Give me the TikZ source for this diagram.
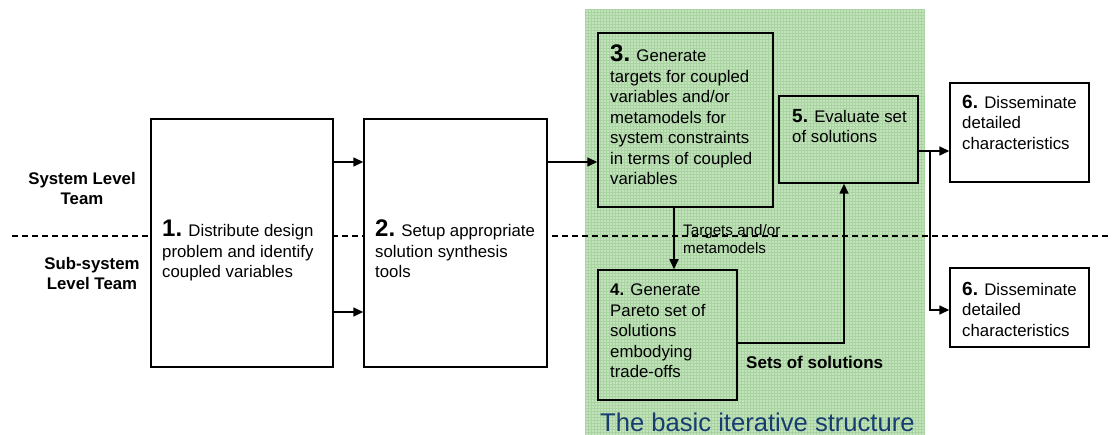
\documentclass[tikz,border=0pt]{standalone}
\usepackage{fontspec}
\setmainfont{Liberation Sans}
\usetikzlibrary{arrows.meta,calc}

\definecolor{zone}{RGB}{194,227,188}
\definecolor{zonegrid}{RGB}{170,211,162}
\definecolor{zonetext}{RGB}{22,60,112}

\newcommand{\bodyfont}{\fontsize{16.8}{20.5}\selectfont}
\newcommand{\bignum}[1]{{\fontsize{24}{20.5}\selectfont\bfseries #1}}
\newcommand{\midnum}[1]{{\fontsize{19}{20.5}\selectfont\bfseries #1}}

\begin{document}
\begin{tikzpicture}[x=1pt,y=-1pt,
  stagebox/.style={draw=black, line width=1.5pt, inner sep=0pt},
  plainbox/.style={stagebox, fill=white},
  stagetext/.style={anchor=north west, inner sep=0pt, align=left, font=\bodyfont},
  teamlabel/.style={inner sep=0pt, align=center, font=\fontsize{16.8}{19.5}\selectfont\bfseries},
  flow/.style={line width=1.6pt, -{Triangle[length=10pt,width=9pt]}},
  lane/.style={line width=1.3pt, dash pattern=on 6pt off 4pt}
]
\useasboundingbox (0,0) rectangle (1115,435);

% shaded zone of the iterative loop
\fill[zone] (585,9) rectangle (925,435);
\draw[zonegrid, line width=0.45pt] (585,9) grid[step=3pt] (925,435);

% boundary between the two team levels
\draw[lane] (12,236) -- (1110,236);

% stage boxes
\node[plainbox, minimum width=182pt, minimum height=248pt] (b1) at (242,243) {};
\node[plainbox, minimum width=183pt, minimum height=248pt] (b2) at (455.5,243) {};
\node[stagebox, minimum width=175pt, minimum height=174pt] (b3) at (685.5,120) {};
\node[stagebox, minimum width=139pt, minimum height=87pt] (b5) at (848.5,139.5) {};
\node[stagebox, minimum width=139pt, minimum height=130pt] (b4) at (667.5,335) {};
\node[plainbox, minimum width=139pt, minimum height=99pt] (b6a) at (1019.5,132.5) {};
\node[plainbox, minimum width=139pt, minimum height=79pt] (b6b) at (1019.5,307.5) {};

% stage texts
\node[stagetext] (t1) at (162,220) {\bignum{1.} Distribute design\\problem and identify\\coupled variables};
\node[stagetext] (t2) at (375,220) {\bignum{2.} Setup appropriate\\solution synthesis\\tools};
\node[stagetext] (t3) at (610,45) {\bignum{3.} Generate\\targets for coupled\\variables and/or\\metamodels for\\system constraints\\in terms of coupled\\variables};
\node[stagetext] (t5) at (792,109) {\midnum{5.} Evaluate set\\of solutions};
\node[stagetext] (t4) at (610,284) {\textbf{4.} Generate\\Pareto set of\\solutions\\embodying\\trade-offs};
\node[stagetext] (t6a) at (962,95) {\midnum{6.} Disseminate\\detailed\\characteristics};
\node[stagetext] (t6b) at (962,282) {\midnum{6.} Disseminate\\detailed\\characteristics};

% team labels
\node[teamlabel] (sys) at (82,188.5) {System Level\\Team};
\node[teamlabel] (sub) at (92,273.5) {Sub-system\\Level Team};

% connectors
\draw[flow] ([yshift=81pt]b1.east) -- ([yshift=81pt]b2.west);
\draw[flow] ([yshift=-69pt]b1.east) -- ([yshift=-69pt]b2.west);
\coordinate (r2) at ([yshift=81pt]b2.east);
\draw[flow] (r2) -- (r2 -| b3.west);
\coordinate (d3) at ([xshift=-11.5pt]b3.south);
\draw[flow] (d3) -- (d3 |- b4.north);
\draw[flow] ([yshift=-8pt]b4.east) -| ([xshift=-4.5pt]b5.south);
\coordinate (s5) at ([yshift=-11.5pt]b5.east);
\coordinate (split) at ($(s5)+(11,0)$);
\draw[flow] (s5) -- (s5 -| b6a.west);
\draw[flow] (split) |- ([yshift=-2.5pt]b6b.west);

% connector labels
\node[anchor=west, inner sep=0pt, align=left, font=\fontsize{15.2}{18.5}\selectfont] (lt) at (683,239) {Targets and/or\\metamodels};
\node[anchor=west, inner sep=0pt, font=\fontsize{17}{20}\selectfont\bfseries] (ls) at (746,362) {Sets of solutions};

% caption of the shaded zone
\node[anchor=west, inner sep=0pt, text=zonetext, font=\fontsize{25.6}{30}\selectfont] (cap) at (600,422) {The basic iterative structure};
\end{tikzpicture}
\end{document}
